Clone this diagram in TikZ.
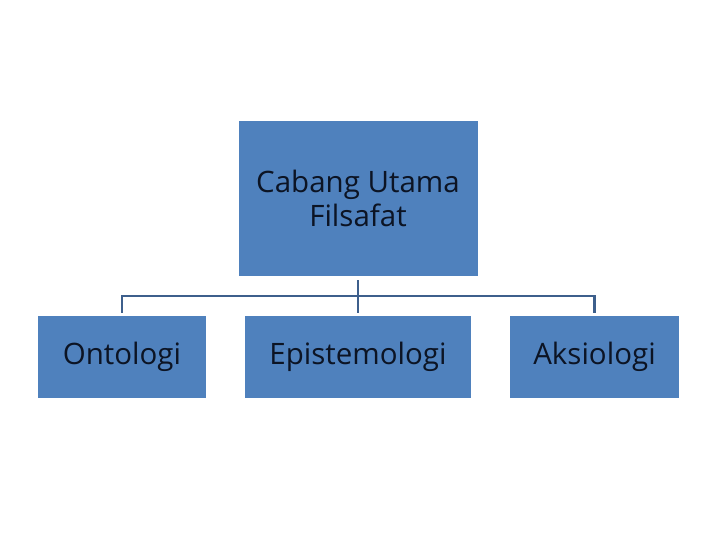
\documentclass[tikz,border=0pt]{standalone}
\usepackage{fontspec}
\setmainfont{Open Sans}
\definecolor{boxfill}{HTML}{4F81BD}
\definecolor{linecol}{HTML}{3D5F8C}
\definecolor{txtcol}{HTML}{0C1424}
\begin{document}
\begin{tikzpicture}[x=1pt,y=-1pt,
  box/.style={fill=boxfill,draw=none,inner sep=0pt,align=center,text=txtcol,font=\fontsize{29.5}{34}\selectfont},
  conn/.style={draw=linecol,line width=2.2pt}]
\useasboundingbox (0,0) rectangle (720,540);
\node[box,minimum width=239pt,minimum height=155pt] (top) at (358,198.5) {Cabang Utama\\Filsafat};
\node[box,minimum width=168pt,minimum height=82pt] (ont) at (122,357) {Ontologi};
\node[box,minimum width=226pt,minimum height=82pt] (epi) at (358,357) {Epistemologi};
\node[box,minimum width=169pt,minimum height=82pt] (aks) at (594.5,357) {Aksiologi};
\coordinate (hub) at (358,296);
\coordinate (lft) at (ont.north |- hub);
\coordinate (rgt) at (aks.north |- hub);
\draw[conn] ([yshift=-4pt]top.south) -- (hub);
\draw[conn] ([yshift=3pt]ont.north) -- (lft) -- (rgt) -- ([yshift=3pt]aks.north);
\draw[conn] (hub) -- ([yshift=3pt]epi.north);
\end{tikzpicture}
\end{document}
